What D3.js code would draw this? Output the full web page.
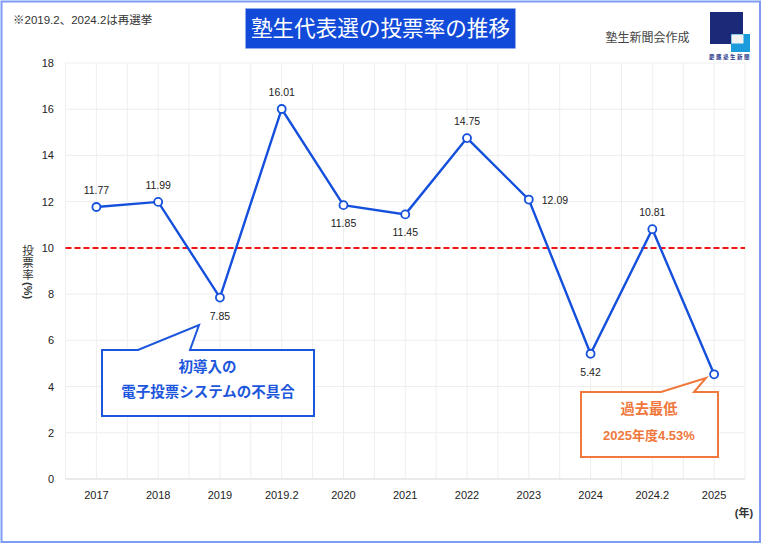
<!DOCTYPE html>
<html>
<head>
<meta charset="utf-8">
<script src="https://cdn.jsdelivr.net/npm/d3@7"></script>
<style>
  html, body { margin: 0; padding: 0; background: #fff; }
  svg { display: block; }
  text { font-family: "Liberation Sans", "Noto Sans CJK JP", sans-serif; }
</style>
</head>
<body>
<div id="chart"></div>
<script>
const years = ['2017', '2018', '2019', '2019.2', '2020', '2021', '2022', '2023', '2024', '2024.2', '2025']
const turnout = [11.77, 11.99, 7.85, 16.01, 11.85, 11.45, 14.75, 12.09, 5.42, 10.81, 4.53]
const labelSides = ['above', 'above', 'below', 'above', 'below', 'below', 'above', 'right', 'below', 'above', 'none']
const yTicks = [0, 2, 4, 6, 8, 10, 12, 14, 16, 18]
const threshold = 10

const blue = '#1450dc'
const orange = '#f0783c'

const svg = d3.select('#chart').append('svg')
    .attr('width', 768)
    .attr('height', 544)

// Outer frame
svg.append('rect')
    .attr('x', 1.5).attr('y', 1.5)
    .attr('width', 758.5).attr('height', 540.5)
    .attr('fill', '#fff')
    .attr('stroke', '#7f9cf5')
    .attr('stroke-width', 2)

const x = d3.scaleBand().domain(years).range([65.5, 745])
const y = d3.scaleLinear().domain([0, 18]).range([479, 63])
const xMid = d => x(d) + x.bandwidth() / 2

// Grid
const grid = svg.append('g').attr('stroke', '#eeeeee').attr('stroke-width', 1)

grid.selectAll('.h').data(yTicks).join('line')
    .attr('x1', x.range()[0]).attr('x2', x.range()[1])
    .attr('y1', d => y(d)).attr('y2', d => y(d))

grid.selectAll('.left').data(years).join('line')
    .attr('x1', d => x(d)).attr('x2', d => x(d))
    .attr('y1', y(18)).attr('y2', y(0))

grid.selectAll('.mid').data(years).join('line')
    .attr('x1', xMid).attr('x2', xMid)
    .attr('y1', y(18)).attr('y2', y(0))

grid.append('line')
    .attr('x1', x.range()[1]).attr('x2', x.range()[1])
    .attr('y1', y(18)).attr('y2', y(0))

grid.append('line')
    .attr('x1', x.range()[0]).attr('x2', x.range()[1])
    .attr('y1', y(0)).attr('y2', y(0))
    .attr('stroke', '#dddddd')

// Axis labels
svg.selectAll('.ytick').data(yTicks).join('text')
    .attr('x', 54).attr('y', d => y(d) + 4)
    .attr('text-anchor', 'end')
    .attr('font-size', 11)
    .attr('fill', '#222')
    .text(d => d)

svg.selectAll('.xtick').data(years).join('text')
    .attr('x', xMid).attr('y', 499)
    .attr('text-anchor', 'middle')
    .attr('font-size', 11)
    .attr('fill', '#222')
    .text(d => d)

svg.append('text')
    .attr('x', 744).attr('y', 517)
    .attr('text-anchor', 'middle')
    .attr('font-size', 11)
    .attr('font-weight', 700)
    .attr('fill', '#333')
    .text('(年)')

// Y title: kanji stay upright, the (%) is turned
const yTitleChars = ['投', '票', '率']

svg.selectAll('.ychar').data(yTitleChars).join('text')
    .attr('x', 28)
    .attr('y', (d, i) => 255 + i * 12)
    .attr('text-anchor', 'middle')
    .attr('font-size', 11.5)
    .attr('fill', '#333')
    .text(d => d)

svg.append('text')
    .attr('transform', 'translate(24,282) rotate(90)')
    .attr('font-size', 11)
    .attr('font-weight', 700)
    .attr('fill', '#333')
    .text('(%)')

// 10% reference line
svg.append('line')
    .attr('x1', x.range()[0]).attr('x2', x.range()[1])
    .attr('y1', y(threshold)).attr('y2', y(threshold))
    .attr('stroke', '#f01414')
    .attr('stroke-width', 2)
    .attr('stroke-dasharray', '6 3')

// Series
const line = d3.line()
    .x((d, i) => xMid(years[i]))
    .y(d => y(d))

svg.append('path')
    .datum(turnout)
    .attr('d', line)
    .attr('fill', 'none')
    .attr('stroke', blue)
    .attr('stroke-width', 2.4)

svg.selectAll('.pt').data(turnout).join('circle')
    .attr('cx', (d, i) => xMid(years[i]))
    .attr('cy', d => y(d))
    .attr('r', 4)
    .attr('fill', '#fff')
    .attr('stroke', blue)
    .attr('stroke-width', 1.8)

// Value labels
function labelDx(i) {
  return labelSides[i] == 'right' ? 13 : 0
}
function labelDy(i) {
  if (labelSides[i] == 'above') return -13
  if (labelSides[i] == 'below') return 22
  return 4
}

svg.selectAll('.val').data(turnout).join('text')
    .attr('x', (d, i) => xMid(years[i]) + labelDx(i))
    .attr('y', (d, i) => y(d) + labelDy(i))
    .attr('text-anchor', (d, i) => labelSides[i] == 'right' ? 'start' : 'middle')
    .attr('font-size', 10.5)
    .attr('fill', '#222')
    .text((d, i) => labelSides[i] == 'none' ? '' : d.toFixed(2))

// Callouts
function callout(points, color, lines) {
  svg.append('polygon')
      .attr('points', points.map(p => p.join(',')).join(' '))
      .attr('fill', '#fff')
      .attr('stroke', color)
      .attr('stroke-width', 2)

  svg.selectAll(null).data(lines).join('text')
      .attr('x', d => d.x).attr('y', d => d.y)
      .attr('text-anchor', 'middle')
      .attr('font-size', d => d.size)
      .attr('font-weight', 700)
      .attr('fill', color)
      .text(d => d.text)
}

callout(
  [[102, 350], [138, 350], [199, 325], [190, 350], [314, 350], [314, 416], [102, 416]],
  '#1c56dc',
  [
    {x: 207.5, y: 372, size: 14.5, text: '初導入の'},
    {x: 208, y: 397, size: 14.5, text: '電子投票システムの不具合'},
  ]
)

callout(
  [[581, 392], [661, 392], [706, 378], [694, 392], [718, 392], [718, 457], [581, 457]],
  orange,
  [
    {x: 649, y: 414, size: 14.3, text: '過去最低'},
    {x: 649, y: 440, size: 13, text: '2025年度4.53%'},
  ]
)

// Header
svg.append('text')
    .attr('x', 13).attr('y', 24)
    .attr('font-size', 11.5)
    .attr('fill', '#333')
    .text('※2019.2、2024.2は再選挙')

svg.append('rect')
    .attr('x', 245.5).attr('y', 8.5)
    .attr('width', 270).attr('height', 40)
    .attr('fill', '#1149d8')
    .attr('stroke', '#9db4ee')
    .attr('stroke-width', 0.5)

svg.append('text')
    .attr('x', 380.5).attr('y', 36)
    .attr('text-anchor', 'middle')
    .attr('font-size', 21.6)
    .attr('fill', '#fff')
    .text('塾生代表選の投票率の推移')

svg.append('text')
    .attr('x', 647.5).attr('y', 42)
    .attr('text-anchor', 'middle')
    .attr('font-size', 12)
    .attr('fill', '#444')
    .text('塾生新聞会作成')

// Logo
svg.append('rect').attr('x', 710).attr('y', 12).attr('width', 33).attr('height', 32).attr('fill', '#1a2a78')
svg.append('rect').attr('x', 731).attr('y', 34).attr('width', 19).attr('height', 18).attr('fill', '#1c9cdc')
svg.append('rect').attr('x', 731.5).attr('y', 34.5).attr('width', 12).attr('height', 9).attr('fill', '#f2f2f2')
svg.append('text')
    .attr('x', 730).attr('y', 58.5)
    .attr('text-anchor', 'middle')
    .attr('font-size', 5.5)
    .attr('font-weight', 700)
    .attr('letter-spacing', 1.5)
    .attr('fill', '#2a3a8c')
    .text('慶應塾生新聞')
</script>
</body>
</html>
